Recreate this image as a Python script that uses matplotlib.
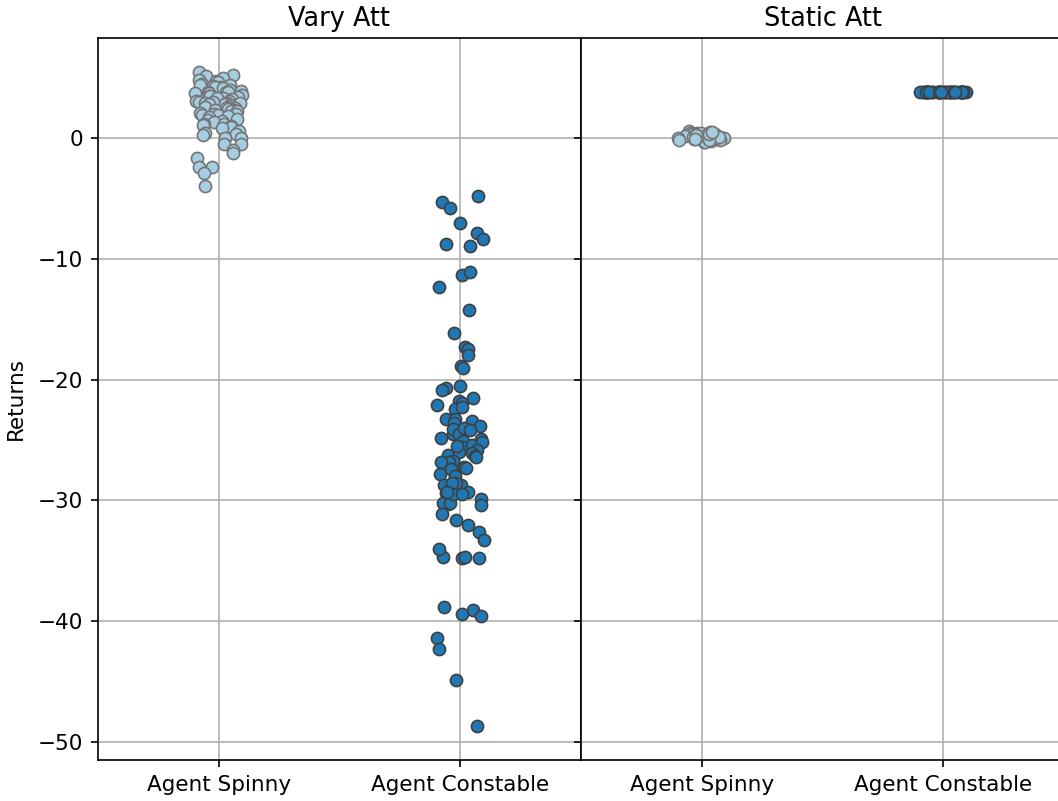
import numpy as np
import matplotlib
matplotlib.use("Agg")
import matplotlib.pyplot as plt

categories = ["Agent Spinny", "Agent Constable"]
panel_titles = ["Vary Att", "Static Att"]

vary_spinny = [5.5, 5.1, 5.2, 5.0, 4.8, 4.7, 4.6, 4.5, 4.4, 4.4, 4.3, 4.25, 4.25, 4.1,
               4.0, 3.9, 3.8, 3.8, 3.8, 3.75, 3.7, 3.6, 3.5, 3.5, 3.4, 3.3, 3.3, 3.2,
               3.1, 3.1, 3.0, 3.0, 2.9, 2.9, 2.9, 2.8, 2.8, 2.7, 2.6, 2.6, 2.5, 2.5,
               2.4, 2.3, 2.3, 2.2, 2.2, 2.1, 2.0, 2.0, 1.9, 1.9, 1.8, 1.7, 1.6, 1.5,
               1.4, 1.3, 1.2, 1.2, 1.1, 1.0, 0.9, 0.85, 0.6, 0.4, 0.35, 0.25, 0.02,
               0.0, -0.52, -0.52, -1.0, -1.27, -1.68, -2.37, -2.37, -2.87, -3.95]

vary_constable = [-4.8, -5.3, -5.8, -7.0, -7.9, -8.4, -8.9, -8.8, -11.3, -11.1, -12.3,
                  -14.2, -16.1, -17.3, -17.5, -18.0, -18.9, -19.0,
                  -20.7, -20.5, -20.9, -21.8, -21.9, -21.5, -22.4, -22.1, -22.3,
                  -23.3, -23.4, -23.3, -23.6, -23.8, -24.3, -24.5, -24.1, -24.5,
                  -24.8, -25.1, -24.9, -25.6, -25.4, -25.2, -25.8, -26.1, -26.3,
                  -26.4, -26.2, -26.0, -26.7, -26.8, -27.2, -27.4, -27.3, -24.0,
                  -26.8, -25.5, -28.0, -24.2, -27.8, -28.7, -28.7, -28.6, -29.3,
                  -28.6, -29.4, -29.9, -30.3, -30.2, -30.2, -29.5, -29.3, -29.5,
                  -30.4, -31.1, -31.6, -32.0, -32.6, -33.3, -34.7, -34.8, -34.8,
                  -34.0, -34.7, -38.8, -39.1, -39.6, -39.4, -41.4, -42.3, -44.9, -48.7]

static_spinny = [0.55, 0.5, 0.45, 0.4, 0.4, 0.35, 0.3, 0.3, 0.25, 0.2, 0.2, 0.15, 0.1,
                 0.1, 0.05, 0.0, 0.0, -0.05, -0.1, -0.1, -0.15, -0.2, -0.2, -0.25,
                 -0.3, -0.35, 0.3, 0.1, -0.1, 0.2, 0.0, 0.45, -0.2, 0.15, 0.05, -0.15,
                 0.35, 0.25, -0.05, 0.5]

static_constable = [3.80, 3.82, 3.78, 3.81, 3.79, 3.80, 3.83, 3.77, 3.80, 3.81, 3.79,
                    3.80, 3.82, 3.78, 3.80, 3.81, 3.79, 3.80, 3.80, 3.82, 3.78, 3.81,
                    3.79, 3.80, 3.83, 3.77, 3.80, 3.81, 3.79, 3.80, 3.80, 3.82, 3.78,
                    3.81, 3.79, 3.80]

panels = [[vary_spinny, vary_constable], [static_spinny, static_constable]]
face_colors = ["#a6cee3", "#1f78b4"]
edge_colors = ["#757575", "#3f3f3f"]

fig = plt.figure(figsize=(1058 / 150, 801 / 150), dpi=150)
ax1 = fig.add_axes([98 / 1058, 41 / 801, 483 / 1058, 722 / 801])
ax2 = fig.add_axes([581 / 1058, 41 / 801, 483 / 1058, 722 / 801], sharey=ax1)

rng = np.random.default_rng(3)
for ax, title, groups in zip([ax1, ax2], panel_titles, panels):
    ax.set_axisbelow(True)
    ax.grid(True, color="#b0b0b0", linewidth=0.8)
    for i, vals in enumerate(groups):
        vals = np.asarray(vals)
        jit = rng.uniform(-0.1, 0.1, len(vals))
        ax.scatter(i + jit, vals, s=34, c=face_colors[i], edgecolors=edge_colors[i],
                   linewidths=0.8, zorder=3)
    ax.set_xticks(range(len(categories)))
    ax.set_xticklabels(categories, fontsize=10.3)
    ax.set_xlim(-0.5, 1.5)
    ax.set_title(title, fontsize=12.3)

ax1.set_ylim(-51.49, 8.28)
ax1.set_yticks([-50, -40, -30, -20, -10, 0])
ax1.set_ylabel("Returns", fontsize=10.3, labelpad=6)
ax1.tick_params(axis="y", labelsize=10.3)
plt.setp(ax2.get_yticklabels(), visible=False)

fig.savefig("out.png", dpi=150)
